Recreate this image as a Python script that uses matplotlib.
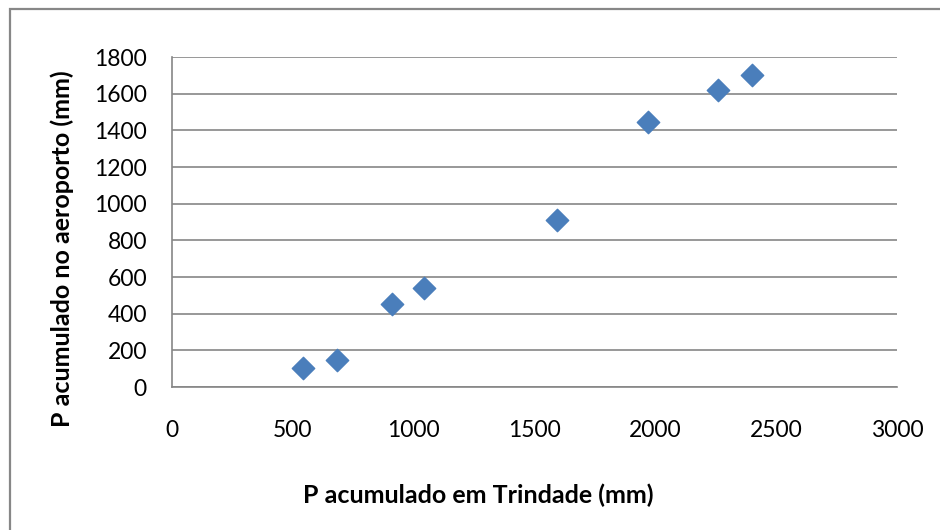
import matplotlib.pyplot as plt
from matplotlib.patches import Rectangle

# precipitação acumulada: Trindade x aeroporto
p_trindade = [541, 683, 909, 1043, 1593, 1968, 2258, 2401]
p_aeroporto = [105, 147, 454, 542, 911, 1447, 1620, 1702]

x_ticks = [0, 500, 1000, 1500, 2000, 2500, 3000]
y_ticks = [0, 200, 400, 600, 800, 1000, 1200, 1400, 1600, 1800]

plt.rcParams['font.family'] = ['Lato', 'DejaVu Sans']

fig = plt.figure(figsize=(9.4, 5.3), dpi=100)
ax = fig.add_axes([172 / 940, 1 - 387 / 530, 725 / 940, 330 / 530])

# moldura do gráfico
fig.patches.append(Rectangle((10 / 940, -0.1), 1.2, 1 - 9 / 530 + 0.1,
                             transform=fig.transFigure, fill=False,
                             edgecolor='#878787', linewidth=1.6))

ax.scatter(p_trindade, p_aeroporto, marker='D', s=130, color='#4A7EBB',
           edgecolors='#4A7EBB', zorder=3, clip_on=False)

ax.set_xlim(0, 3000)
ax.set_ylim(0, 1800)
ax.set_xticks(x_ticks)
ax.set_yticks(y_ticks)
ax.tick_params(axis='both', length=0, labelsize=16.5)
ax.tick_params(axis='x', pad=24)
ax.tick_params(axis='y', pad=18)

ax.grid(axis='y', color='#868686', linewidth=1.2)
ax.set_axisbelow(True)
for s in ['top', 'right']:
    ax.spines[s].set_visible(False)
for s in ['left', 'bottom']:
    ax.spines[s].set_color('#868686')
    ax.spines[s].set_linewidth(1.2)

fig.text(478 / 940, 1 - 495 / 530, 'P acumulado em Trindade (mm)',
         ha='center', va='center', fontsize=18, fontweight='bold')
fig.text(62 / 940, 1 - 249 / 530, 'P acumulado no aeroporto (mm)',
         ha='center', va='center', rotation=90, fontsize=18, fontweight='bold')

plt.savefig('out.png', dpi=100)
